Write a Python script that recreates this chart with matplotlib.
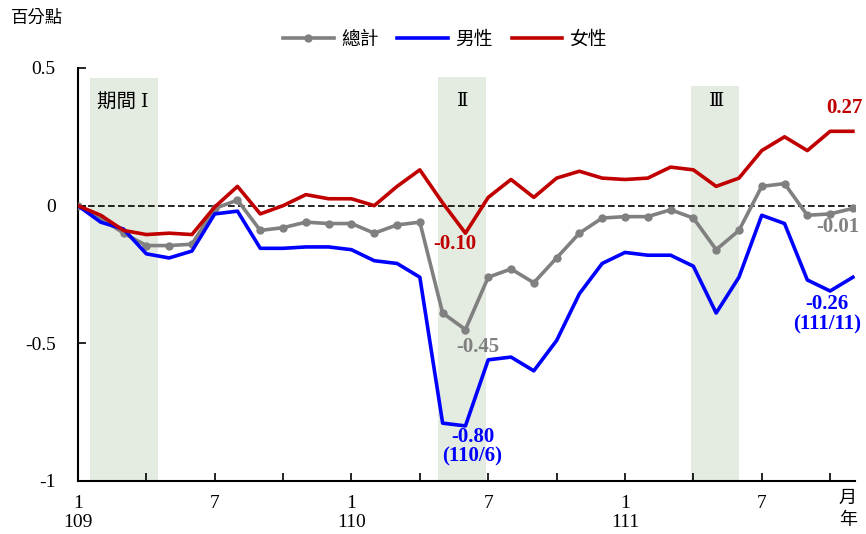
import matplotlib.pyplot as plt
import numpy as np

plt.rcParams['font.family'] = ['Liberation Serif', 'DejaVu Serif', 'Noto Sans CJK TC']

# 109/1 ~ 111/11, percentage points
months = ['1', '2', '3', '4', '5', '6', '7', '8', '9', '10', '11', '12'] * 3
years = ['109', '110', '111']
total = [0.00, -0.045, -0.10, -0.145, -0.145, -0.14, -0.01, 0.02, -0.09, -0.08,
         -0.06, -0.065, -0.065, -0.10, -0.07, -0.06, -0.39, -0.45, -0.26, -0.23,
         -0.28, -0.19, -0.10, -0.045, -0.04, -0.04, -0.015, -0.045, -0.16, -0.09,
         0.07, 0.08, -0.035, -0.03, -0.01]
male = [0.00, -0.06, -0.085, -0.175, -0.19, -0.165, -0.03, -0.02, -0.155, -0.155,
        -0.15, -0.15, -0.16, -0.20, -0.21, -0.26, -0.79, -0.80, -0.56, -0.55,
        -0.60, -0.49, -0.32, -0.21, -0.17, -0.18, -0.18, -0.22, -0.39, -0.26,
        -0.035, -0.065, -0.27, -0.31, -0.26]
female = [0.00, -0.035, -0.09, -0.105, -0.10, -0.105, -0.005, 0.07, -0.03, 0.00,
          0.04, 0.025, 0.025, 0.00, 0.07, 0.13, 0.01, -0.10, 0.03, 0.095,
          0.03, 0.10, 0.125, 0.10, 0.095, 0.10, 0.14, 0.13, 0.07, 0.10,
          0.20, 0.25, 0.20, 0.27, 0.27]
series_names = ['總計', '男性', '女性']
period_names = ['期間 Ⅰ', 'Ⅱ', 'Ⅲ']

GRAY = '#808080'
BLUE = '#0000FF'
RED = '#C00000'
SHADE = '#E4EBE1'


def main():
    x = np.arange(len(total))

    fig = plt.figure(figsize=(8.66, 5.34), dpi=100)
    ax = fig.add_axes([0.090, 0.0993, 0.897, 0.7734])

    # shaded periods (start, end, top)
    for x0, x1, top in [(0.53, 3.51, 0.462), (15.78, 17.9, 0.469), (26.9, 29.0, 0.433)]:
        ax.axvspan(x0, x1, ymin=0, ymax=(top + 1) / 1.5, color=SHADE, lw=0, zorder=0)

    ax.text(0.83, 0.378, period_names[0], fontsize=14, va='center', ha='left')
    ax.text(16.9, 0.378, period_names[1], fontsize=14, va='center', ha='center')
    ax.text(28.0, 0.38, period_names[2], fontsize=14, va='center', ha='center')

    ax.axhline(0, color='black', ls='--', lw=1.2, dashes=(4, 2), zorder=1)

    ax.plot(x, total, color=GRAY, lw=2.6, marker='o', ms=5, label=series_names[0], zorder=3)
    ax.plot(x, male, color=BLUE, lw=2.6, label=series_names[1], zorder=3)
    ax.plot(x, female, color=RED, lw=2.6, label=series_names[2], zorder=3)

    bold = dict(fontsize=15, fontweight='bold', ha='center', va='center',
                textcoords='offset pixels', annotation_clip=False)
    i_min = int(np.argmin(male))
    ax.annotate(f'{female[-1]:.2f}', (x[-1], female[-1]), xytext=(-8, 23), color=RED, **bold)
    ax.annotate(f'{total[-1]:.2f}', (x[-1], total[-1]), xytext=(-15, -19), color=GRAY, **bold)
    ax.annotate(f'{male[-1]:.2f}\n(111/11)', (x[-1], male[-1]), xytext=(-26, -37),
                color=BLUE, linespacing=1.0, **bold)
    ax.annotate(f'{male[i_min]:.2f}\n(110/6)', (x[i_min], male[i_min]), xytext=(7, -21),
                color=BLUE, linespacing=1.0, **bold)
    ax.annotate(f'{total[i_min]:.2f}', (x[i_min], total[i_min]), xytext=(12, -17), color=GRAY, **bold)
    ax.annotate(f'{female[i_min]:.2f}', (x[i_min], female[i_min]), xytext=(-11, -11), color=RED, **bold)

    ax.set_xlim(0, 34.08)
    ax.set_ylim(-1, 0.5)
    ax.set_yticks([0.5, 0, -0.5, -1])
    ax.set_yticklabels(['0.5', '0', '-0.5', '-1'])
    ticks = list(range(0, 34, 3))
    labels = []
    for t in ticks:
        if t % 12 == 0:
            labels.append(months[t] + '\n' + years[t // 12])
        elif t % 6 == 0:
            labels.append(months[t])
        else:
            labels.append('')
    ax.set_xticks(ticks)
    ax.set_xticklabels(labels, linespacing=1.2)
    ax.tick_params(axis='both', direction='in', length=6, width=1.2, labelsize=14)
    ax.tick_params(axis='y', pad=16)
    ax.tick_params(axis='x', pad=10)
    for s in ['top', 'right']:
        ax.spines[s].set_visible(False)
    for s in ['left', 'bottom']:
        ax.spines[s].set_linewidth(1.5)

    fig.text(0.013, 0.965, '百分點', fontsize=12.5, va='center', ha='left')
    fig.text(0.979, 0.067, '月', fontsize=13, va='center', ha='center')
    fig.text(0.979, 0.025, '年', fontsize=13, va='center', ha='center')

    fig.legend(loc='center', bbox_to_anchor=(0.514, 0.925), ncol=3, frameon=False,
               fontsize=13.5, handlelength=2.7, columnspacing=1.0, handletextpad=0.4)

    fig.savefig('out.png', dpi=100)


if __name__ == '__main__':
    main()
